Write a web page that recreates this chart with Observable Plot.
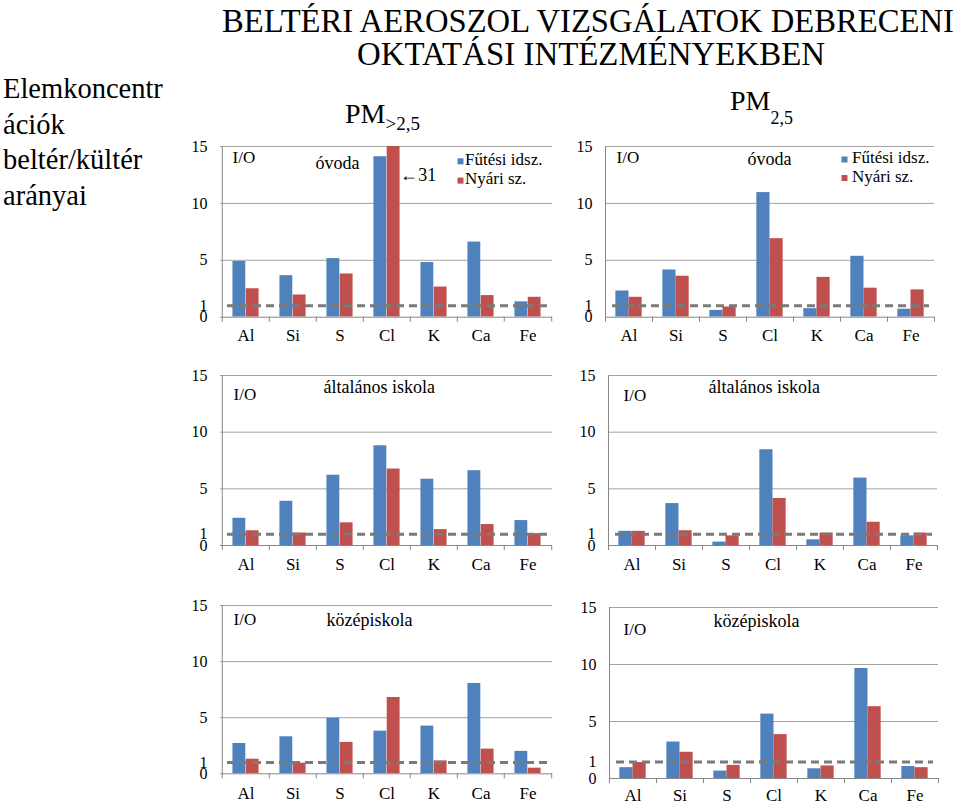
<!DOCTYPE html>
<html lang="hu">
<head>
<meta charset="utf-8">
<title>Beltéri aeroszol vizsgálatok</title>
<script src="https://cdn.jsdelivr.net/npm/d3@7"></script>
<script src="https://cdn.jsdelivr.net/npm/@observablehq/plot@0.6"></script>
<style>
html,body{margin:0;padding:0;background:#fff;}
#root{position:relative;width:960px;height:805px;overflow:hidden;font-family:"Liberation Serif","Times New Roman",serif;}
.panel{position:absolute;}
.panel svg{display:block;max-width:none;overflow:visible;background:transparent;}
#overlay{position:absolute;left:0;top:0;pointer-events:none;}
#overlay text{font-family:"Liberation Serif","Times New Roman",serif;fill:#000;}
</style>
</head>
<body>
<div id="root"></div>
<script>
// ---------------- data ----------------
const elements = ["Al", "Si", "S", "Cl", "K", "Ca", "Fe"];
const seriesNames = ["Fűtési idsz.", "Nyári sz."];
const seriesColors = ["#4f81bd", "#c0504d"];
const schoolNames = ["óvoda", "általános iskola", "középiskola"];
const ratioLabel = "I/O";
const titleLines = ["BELTÉRI AEROSZOL VIZSGÁLATOK DEBRECENI", "OKTATÁSI INTÉZMÉNYEKBEN"];
const sideLines = ["Elemkoncentr", "ációk", "beltér/kültér", "arányai"];
const fractionMain = ["PM", "PM"];
const fractionSub = [">2,5", "2,5"];
const yTickValues = [0, 5, 10, 15];
const yTickOneLabel = "1";
const yMax = 15;
const refLevels = [1, 1, 1, 1, 1, 1.45]; // dashed I/O = 1 line, as drawn in each panel

// PM>2,5 (coarse) and PM2,5 (fine) indoor/outdoor ratios
const ovodaCoarseHeating     = [4.9, 3.65, 5.15, 14.1, 4.8, 6.6, 1.35];
const ovodaCoarseSummer      = [2.5, 1.95, 3.8, 31, 2.65, 1.9, 1.75];
const ovodaFineHeating       = [2.3, 4.15, 0.6, 10.95, 0.75, 5.35, 0.7];
const ovodaFineSummer        = [1.75, 3.6, 0.9, 6.9, 3.5, 2.55, 2.4];
const altalanosCoarseHeating = [2.4, 3.9, 6.2, 8.8, 5.85, 6.6, 2.2];
const altalanosCoarseSummer  = [1.3, 1.1, 2.0, 6.75, 1.4, 1.85, 1.05];
const altalanosFineHeating   = [1.25, 3.7, 0.3, 8.45, 0.5, 5.95, 0.85];
const altalanosFineSummer    = [1.25, 1.3, 0.85, 4.15, 1.1, 2.05, 1.1];
const kozepCoarseHeating     = [2.7, 3.3, 4.95, 3.8, 4.25, 8.05, 2.0];
const kozepCoarseSummer      = [1.3, 0.95, 2.8, 6.8, 1.15, 2.2, 0.5];
const kozepFineHeating       = [0.95, 3.2, 0.65, 5.65, 0.85, 9.65, 1.05];
const kozepFineSummer        = [1.4, 2.3, 1.15, 3.85, 1.1, 6.3, 0.95];

const panels = [
  {school: 0, heat: ovodaCoarseHeating, summer: ovodaCoarseSummer},
  {school: 0, heat: ovodaFineHeating, summer: ovodaFineSummer},
  {school: 1, heat: altalanosCoarseHeating, summer: altalanosCoarseSummer},
  {school: 1, heat: altalanosFineHeating, summer: altalanosFineSummer},
  {school: 2, heat: kozepCoarseHeating, summer: kozepCoarseSummer},
  {school: 2, heat: kozepFineHeating, summer: kozepFineSummer}
];

// ---------------- layout (pixels) ----------------
const layout = [
  {x0: 220, x1: 552, yTop: 146,   yBot: 316.7, ioX: 12, ioY: 157.3, nameX: 95,  nameY: 162.6, xPad: 11.9, noteY: 174.6},
  {x0: 605, x1: 934, yTop: 146,   yBot: 316.7, ioX: 11, ioY: 157.3, nameX: 142, nameY: 158.6, xPad: 11.9, noteY: 174.6},
  {x0: 220, x1: 552, yTop: 375,   yBot: 545,   ioX: 13, ioY: 394,   nameX: 103, nameY: 386.6, xPad: 12.9, noteY: 0},
  {x0: 608, x1: 937, yTop: 375,   yBot: 545,   ioX: 15, ioY: 394.6, nameX: 100, nameY: 386.6, xPad: 12.9, noteY: 0},
  {x0: 220, x1: 552, yTop: 605,   yBot: 773.3, ioX: 13, ioY: 618.6, nameX: 106, nameY: 620,   xPad: 12.9, noteY: 0},
  {x0: 609, x1: 938, yTop: 607.3, yBot: 778.3, ioX: 14, ioY: 629,   nameX: 104, nameY: 621,   xPad: 10.5, noteY: 0}
];
const legendLayout = [
  {sqX: 457.5, textX: 465, rows: [{sqY: 158.3, base: 165.2}, {sqY: 177.6, base: 184}]},
  {sqX: 841.5, textX: 852, rows: [{sqY: 156.5, base: 163.3}, {sqY: 175,   base: 181.5}]}
];

const FONT = "Liberation Serif, Times New Roman, serif";
const GRID = "#a3a3a3", AXIS = "#878787", DASH = "#7a7a7a";
const root = document.getElementById("root");

panels.forEach((p, i) => {
  const L = layout[i];
  const ML = 45, MR = 14, MT = 8, MB = 32;
  const innerW = L.x1 - L.x0, innerH = L.yBot - L.yTop;
  const step = innerW / elements.length;
  const barW = step * 0.28;
  const rows = elements.map((el, j) => ({el, heat: p.heat[j], summer: p.summer[j]}));
  const ref = refLevels[i];
  const overflow = rows.filter(r => r.summer > yMax);
  const svg = Plot.plot({
    width: innerW + ML + MR,
    height: innerH + MT + MB,
    marginLeft: ML, marginRight: MR, marginTop: MT, marginBottom: MB,
    style: `font-family:${FONT};background:transparent;overflow:visible;max-width:none;color:#000;`,
    x: {type: "band", domain: elements, padding: 0},
    y: {domain: [0, yMax]},
    marks: [
      Plot.ruleY(yTickValues.filter(v => v > 0), {stroke: GRID, strokeWidth: 1}),
      Plot.barY(rows, {x: "el", y: "heat", fill: seriesColors[0], insetLeft: step / 2 - barW, insetRight: step / 2, clip: true}),
      Plot.barY(rows, {x: "el", y: "summer", fill: seriesColors[1], insetLeft: step / 2, insetRight: step / 2 - barW, clip: true}),
      Plot.ruleY([0], {stroke: AXIS, strokeWidth: 1}),
      Plot.ruleX([elements[0]], {x: d => d, dx: -step / 2, y1: 0, y2: yMax, stroke: AXIS, strokeWidth: 1}),
      Plot.ruleY([ref], {stroke: DASH, strokeWidth: 3, strokeDasharray: "8,5", insetLeft: 7, insetRight: 5}),
      Plot.axisX({tickSize: 5, tickFormat: () => "", dx: -step / 2, stroke: AXIS, label: null}),
      Plot.axisX([elements[elements.length - 1]], {tickSize: 5, tickFormat: () => "", dx: step / 2, stroke: AXIS, label: null}),
      Plot.axisX({tickSize: 0, tickPadding: L.xPad, fontSize: 17, fill: "#000", label: null}),
      Plot.axisY([0, ref, ...yTickValues.slice(1)], {
        tickSize: 0, tickPadding: 13, fontSize: 16, fill: "#000", label: null,
        tickFormat: v => (v === ref ? yTickOneLabel : String(v))
      }),
      Plot.text([ratioLabel], {text: d => d, frameAnchor: "top-left", dx: L.ioX, dy: L.ioY - L.yTop,
        textAnchor: "start", lineAnchor: "middle", fontSize: 17, fill: "#000"}),
      Plot.text([schoolNames[p.school]], {text: d => d, frameAnchor: "top-left", dx: L.nameX, dy: L.nameY - L.yTop,
        textAnchor: "start", lineAnchor: "middle", fontSize: 18, fill: "#000"}),
      Plot.text(overflow, {x: "el", text: d => "\u2190" + d.summer, frameAnchor: "top", dx: barW,
        dy: L.noteY - L.yTop, textAnchor: "start", lineAnchor: "middle", fontSize: 18, fill: "#000"})
    ]
  });
  const wrap = document.createElement("div");
  wrap.className = "panel";
  wrap.style.left = (L.x0 - ML) + "px";
  wrap.style.top = (L.yTop - MT) + "px";
  wrap.appendChild(svg);
  root.appendChild(wrap);
});

// ---------------- titles, side text and legends ----------------
const ov = d3.select(root).append("svg").attr("id", "overlay")
  .attr("width", 960).attr("height", 805);

function addText(x, y, size, str) {
  return ov.append("text").attr("x", x).attr("y", y)
    .attr("font-family", FONT).attr("font-size", size).attr("fill", "#000").text(str);
}

addText(222, 31.7, 34, titleLines[0]).attr("textLength", 732).attr("lengthAdjust", "spacingAndGlyphs");
addText(357, 65, 34, titleLines[1]).attr("textLength", 468).attr("lengthAdjust", "spacingAndGlyphs");

const sideBase = [98.3, 133.5, 169.3, 205];
sideLines.forEach((s, k) => addText(3, sideBase[k], 28.5, s));

const pmPos = [{x: 345, y: 123.3, sub: 6.7, subSize: 19}, {x: 730, y: 110, sub: 13.5, subSize: 18}];
fractionMain.forEach((m, k) => {
  const t = addText(pmPos[k].x, pmPos[k].y, 28, null);
  t.append("tspan").text(m);
  t.append("tspan").attr("dy", pmPos[k].sub).attr("font-size", pmPos[k].subSize).text(fractionSub[k]);
});

legendLayout.forEach(lg => {
  seriesNames.forEach((name, s) => {
    ov.append("rect").attr("x", lg.sqX).attr("y", lg.rows[s].sqY).attr("width", 6).attr("height", 6)
      .attr("fill", seriesColors[s]);
    addText(lg.textX, lg.rows[s].base, 17, name);
  });
});
</script>
</body>
</html>
